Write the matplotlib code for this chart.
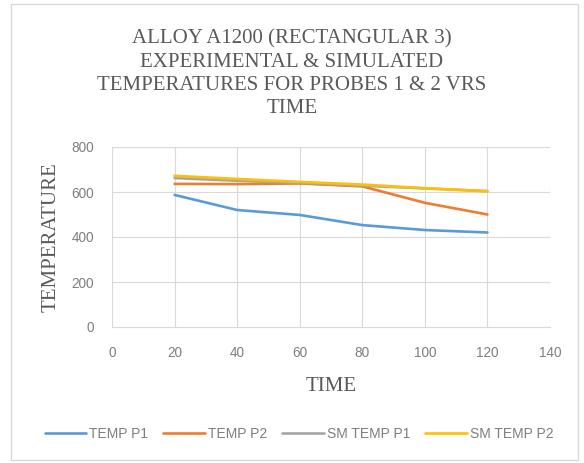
import matplotlib
matplotlib.use("Agg")
import matplotlib.pyplot as plt
from matplotlib.patches import Rectangle

time = [20, 40, 60, 80, 100, 120]
temp_p1 = [587, 520, 498, 453, 431, 420]
temp_p2 = [636, 635, 638, 625, 552, 500]
sm_temp_p1 = [662, 650, 640, 628, 616, 604]
sm_temp_p2 = [672, 658, 645, 633, 617, 603]

series = [
    ("TEMP P1", temp_p1, "#5B9BD5"),
    ("TEMP P2", temp_p2, "#ED7D31"),
    ("SM TEMP P1", sm_temp_p1, "#A5A5A5"),
    ("SM TEMP P2", sm_temp_p2, "#FFC000"),
]

x_ticks = [0, 20, 40, 60, 80, 100, 120, 140]
y_ticks = [0, 200, 400, 600, 800]

W, H = 584, 463
fig = plt.figure(figsize=(W / 100, H / 100), dpi=100)
fig.patch.set_facecolor("white")

# outer chart frame
fig.patches.append(Rectangle((11 / W, 3 / H), 567 / W, 456 / H, transform=fig.transFigure,
                             fill=False, edgecolor="#D9D9D9", linewidth=1.0))

ax = fig.add_axes([112 / W, 1 - 327 / H, 438 / W, 180 / H])
for name, vals, col in series:
    ax.plot(time, vals, color=col, linewidth=1.9, label=name, solid_joinstyle="round",
            solid_capstyle="round")

ax.set_xlim(0, 140)
ax.set_ylim(0, 800)
ax.set_xticks(x_ticks)
ax.set_yticks(y_ticks)
ax.grid(True, color="#D9D9D9", linewidth=0.8)
ax.set_axisbelow(True)
for s in ["top", "right", "left"]:
    ax.spines[s].set_visible(False)
ax.spines["bottom"].set_color("#D9D9D9")
ax.tick_params(length=0, colors="#7F7F7F", labelsize=9.8)
ax.tick_params(axis="x", pad=14)
ax.tick_params(axis="y", pad=13)
for lab in ax.get_xticklabels() + ax.get_yticklabels():
    lab.set_family("Liberation Sans")

serif = "Liberation Serif"
fig.text(0.5, 1 - 74 / H,
         "ALLOY A1200 (RECTANGULAR 3)\nEXPERIMENTAL & SIMULATED\nTEMPERATURES FOR PROBES 1 & 2 VRS\nTIME",
         ha="center", va="center", fontsize=15, family=serif, color="#595959", linespacing=1.3)
ax.set_xlabel("TIME", family=serif, fontsize=15, color="#595959", labelpad=12)
ax.set_ylabel("TEMPERATURE", family=serif, fontsize=15, color="#595959", labelpad=8)

leg = fig.legend(loc="center", bbox_to_anchor=(299 / W, 1 - 434 / H), ncol=4, frameon=False,
                 handlelength=3.0, columnspacing=1.1, handletextpad=0.2,
                 prop={"family": "Liberation Sans", "size": 10})
for t in leg.get_texts():
    t.set_color("#7F7F7F")

fig.savefig("out.png", dpi=100, facecolor="white")
